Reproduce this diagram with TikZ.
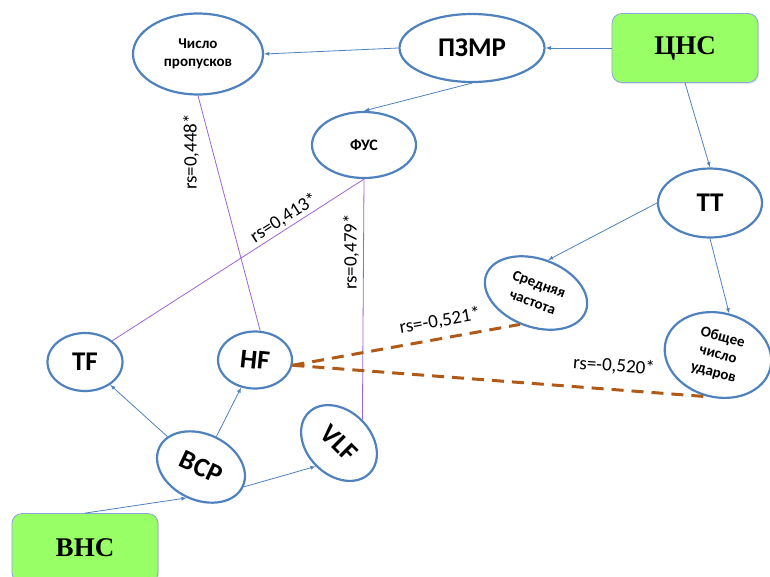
\documentclass[tikz,border=0pt]{standalone}
\usepackage{fontspec}
\setmainfont{Carlito}
\newfontfamily\nsfont{Liberation Serif}
\usetikzlibrary{shapes.geometric,shadows}

\definecolor{ovalblue}{RGB}{79,129,189}
\definecolor{boxedge}{RGB}{135,165,215}
\definecolor{nsgreen}{RGB}{153,255,102}
\definecolor{corrpurple}{RGB}{155,100,215}
\definecolor{negbrown}{RGB}{175,90,25}

\begin{document}
\begin{tikzpicture}
            [
                x=1pt, y=-1pt,
                oval/.style={ellipse, draw=ovalblue, line width=2.2pt, fill=white, inner sep=0pt, align=center},
                nsbox/.style={rectangle, rounded corners=10pt, draw=boxedge, line width=0.8pt, fill=nsgreen,
                    drop shadow={opacity=0.2, shadow xshift=1pt, shadow yshift=-1.5pt},
                    minimum width=146pt, minimum height=69pt, font=\nsfont\bfseries\fontsize{27}{30}\selectfont},
                link/.style={draw=ovalblue, line width=0.8pt},
                corr/.style={-, draw=corrpurple, line width=0.8pt},
                negcorr/.style={-, draw=negbrown, line width=3pt, dash pattern=on 12pt off 8pt},
                rs/.style={inner sep=0pt, font=\fontsize{19}{21}\selectfont},
                ->, >=latex
            ]
            \useasboundingbox (0,0) rectangle (770,576);

            \node[nsbox] (cns) at (685,48) {ЦНС};
            \node[nsbox] (vns) at (85,548) {ВНС};

            \node[oval, minimum width=145pt, minimum height=68pt, font=\bfseries\fontsize{27}{30}\selectfont] (pzmr) at (472,48) {ПЗМР};
            \node[oval, minimum width=130pt, minimum height=81pt, font=\bfseries\fontsize{15}{18}\selectfont] (chislo) at (198,54) {Число\\пропусков};
            \node[oval, minimum width=104pt, minimum height=66pt, font=\bfseries\fontsize{16}{18}\selectfont] (fus) at (364,145) {ФУС};
            \node[oval, minimum width=104pt, minimum height=69pt, font=\bfseries\fontsize{27}{28}\selectfont] (tt) at (710,203) {ТТ};
            \node[oval, rotate=-20, minimum width=106pt, minimum height=68pt, font=\bfseries\fontsize{15}{19}\selectfont] (sred) at (536,293) {Средняя\\частота};
            \node[oval, rotate=-15, minimum width=108pt, minimum height=84pt, font=\bfseries\fontsize{15}{18}\selectfont] (obsh) at (718,355) {Общее\\число\\ударов};
            \node[oval, minimum width=75pt, minimum height=58pt, font=\bfseries\fontsize{27}{28}\selectfont] (tf) at (85,362) {TF};
            \node[oval, minimum width=74pt, minimum height=57pt, font=\bfseries\fontsize{27}{28}\selectfont] (hf) at (255,360) {\rotatebox{-6}{HF}};
            \node[oval, rotate=-25, minimum width=92pt, minimum height=66pt, font=\bfseries\fontsize{27}{28}\selectfont] (vsr) at (201,467) {ВСР};
            \node[oval, rotate=-45, minimum width=86pt, minimum height=64pt, font=\bfseries\fontsize{27}{28}\selectfont] (vlf) at (339,443) {VLF};

            \draw[link] (cns.west) -- (pzmr.east);
            \draw[link] (pzmr.west) -- (chislo.east);
            \draw[link] (pzmr.south) -- (fus.north);
            \draw[link] (cns.south) -- (tt.north);
            \draw[link] (tt.west) -- (sred.north);
            \draw[link] (tt.south) -- (obsh.north);
            \draw[link] (vsr) -- (tf);
            \draw[link] (vsr) -- (hf);
            \draw[link] (vsr.east) -- (vlf.south);
            \draw[link] (vns.north) -- (vsr.south);

            \draw[corr] (chislo.south) -- (hf.80);
            \draw[corr] (fus.south) -- (tf.north east);
            \draw[corr] (fus.south) -- (vlf.north);

            \draw[negcorr] (hf.-8) -- (sred.263);
            \draw[negcorr] (hf.-8) -- (obsh.south);

            \node[rs, rotate=90] (r448) at (191,152) {rs=0,448*};
            \node[rs, rotate=33] (r413) at (284,218) {rs=0,413*};
            \node[rs, rotate=90] (r479) at (351,252) {rs=0,479*};
            \node[rs, rotate=10] (r521) at (440,321) {rs=-0,521*};
            \node[rs, rotate=-4] (r520) at (614,366) {rs=-0,520*};
        \end{tikzpicture}
\end{document}
